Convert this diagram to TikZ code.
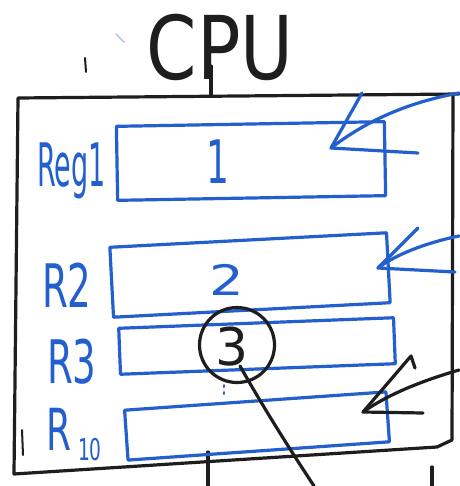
\documentclass[tikz,border=0pt]{standalone}
\usepackage{fontspec}
\setmainfont{DejaVu Sans}
\definecolor{pen}{RGB}{35,95,205}
\definecolor{ink}{RGB}{30,30,30}
\tikzset{
  stroke/.style={line width=3.2pt, line cap=round, line join=round},
  blueink/.style={stroke, draw=pen},
  blackink/.style={stroke, draw=ink},
  regbox/.style={blueink, rectangle, inner sep=0pt},
  lbl/.style={text=pen, inner sep=0pt, anchor=base west},
  num/.style={text=pen, inner sep=0pt, anchor=base},
}
\begin{document}
\begin{tikzpicture}[x=1pt,y=-1pt]
\useasboundingbox (0,0) rectangle (459,486);
\fill[white] (0,0) rectangle (459,486);

% title
\node[inner sep=0pt, anchor=base, xscale=0.82, text=ink,
      font=\fontsize{88}{88}\selectfont] (cpu) at (220,80) {CPU};
\coordinate (cpuP) at (211,66);
\coordinate (boxtop) at (211,96);
\draw[blackink] (cpuP) -- (boxtop);

% stray marks
\draw[blackink, line width=2pt] (85,58) -- (86,72);
\draw[pen!35, line width=1.5pt, line cap=round] (116,34) -- (124,42);

% outer box
\coordinate (bTL) at (18,98);
\coordinate (bTR) at (459,94);
\coordinate (bRT) at (453,94);
\coordinate (bRB) at (452,440);
\coordinate (bBR) at (437,447);
\coordinate (bBL) at (14,474);
\draw[blackink] (bTR) -- (bTL) -- (bBL) -- (bBR) -- (bRB) -- (bRT);
\draw[blackink, line width=2pt] (22,430) -- (23,455);

% lines leaving the box
\coordinate (o1a) at (208,452);
\coordinate (o1b) at (208,486);
\coordinate (o2a) at (432,467);
\coordinate (o2b) at (432,486);
\draw[blackink] (o1a) -- (o1b);
\draw[blackink] (o2a) -- (o2b);

% registers
\node[regbox, minimum width=268pt, minimum height=74pt, rotate=1] (r1) at (251,161) {};
\node[regbox, minimum width=277pt, minimum height=70pt, rotate=3] (r2) at (250,275) {};
\node[regbox, minimum width=275pt, minimum height=46pt, rotate=2.2] (r3) at (257,346) {};
\node[regbox, minimum width=262pt, minimum height=50pt, rotate=4] (r10) at (257,426) {};

% labels
\node[lbl, xscale=0.45, font=\fontsize{60}{60}\selectfont] (l1) at (37,186) {Reg1};
\node[lbl, xscale=0.62, font=\fontsize{60}{60}\selectfont] (l2) at (42,307) {R2};
\node[lbl, xscale=0.62, font=\fontsize{60}{60}\selectfont] (l3) at (47,383) {R3};
\node[lbl, xscale=0.62, font=\fontsize{58}{58}\selectfont] (l10) at (46,450) {R};
\node[lbl, xscale=0.62, font=\fontsize{30}{30}\selectfont] (l10s) at (78,460) {10};

% contents
\node[num, xscale=0.6, font=\fontsize{60}{60}\selectfont] (n1) at (218,183) {1};
\node[num, xscale=1.3, font=\fontsize{42}{42}\selectfont] (n2) at (227,295) {2};
\node[num, text=ink, font=\fontsize{52}{52}\selectfont] (n3) at (232,365) {3};
\node[blackink, circle, minimum size=75pt, inner sep=0pt] (c3) at (237,345) {};
\draw[pen, line width=2pt, line cap=round, dash pattern=on 2pt off 5pt] (224,385) -- (224,398);

% tail from circled 3
\coordinate (t3) at (240,366);
\coordinate (tailend) at (314,486);
\draw[blackink] (t3) .. controls (262,405) and (287,445) .. (tailend);

% arrow into Reg1
\coordinate (a1) at (331,148);
\coordinate (a1s) at (459,93);
\coordinate (a1h1) at (362,93);
\coordinate (a1h2) at (418,153);
\draw[blueink] (a1s) .. controls (405,103) and (365,122) .. (a1);
\draw[blueink] (a1h1) -- (a1) -- (a1h2);

% arrow into R2
\coordinate (a2) at (378,268);
\coordinate (a2s) at (459,236);
\coordinate (a2h1) at (418,228);
\coordinate (a2h2) at (455,272);
\draw[blueink] (a2s) .. controls (425,243) and (395,255) .. (a2);
\draw[blueink] (a2h1) -- (a2) -- (a2h2);

% arrow into R10
\coordinate (a3) at (363,412);
\coordinate (a3s) at (459,370);
\coordinate (a3h1) at (411,356);
\coordinate (a3k) at (415,368);
\coordinate (a3h2) at (423,413);
\draw[blackink] (a3s) .. controls (425,380) and (390,393) .. (a3);
\draw[blackink] (a3k) -- (a3h1) -- (a3) -- (a3h2);
\end{tikzpicture}
\end{document}
